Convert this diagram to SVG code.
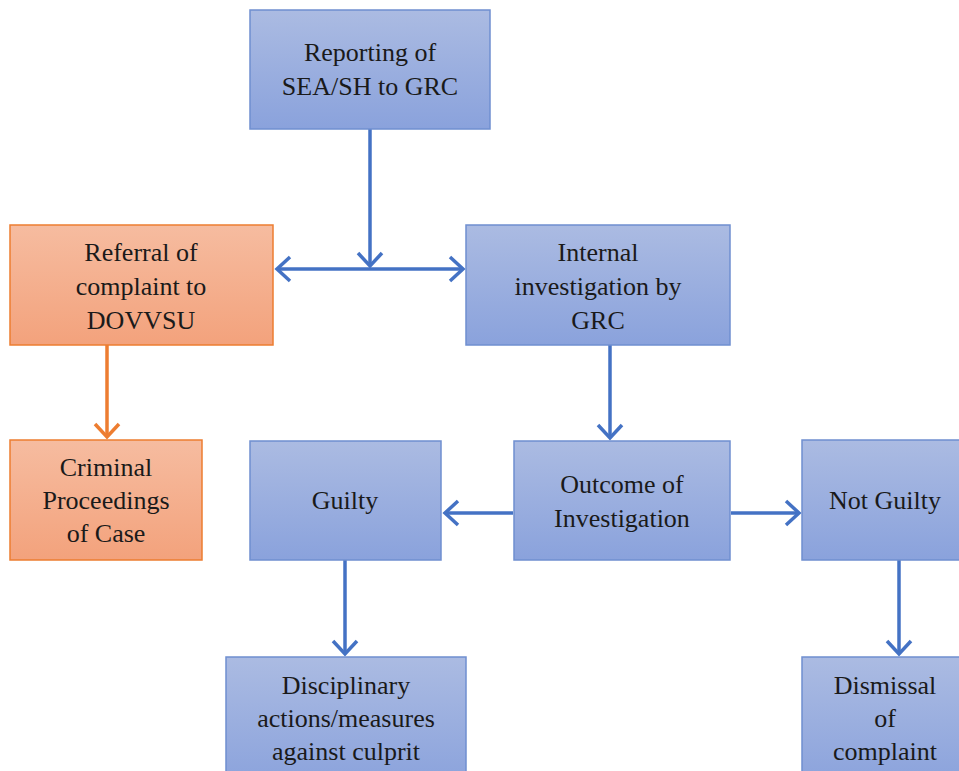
<svg xmlns="http://www.w3.org/2000/svg" width="959" height="771" viewBox="0 0 959 771">
<defs>
<linearGradient id="gb" x1="0" y1="0" x2="0" y2="1"><stop offset="0" stop-color="#abbbe2"/><stop offset="1" stop-color="#8aa2dc"/></linearGradient>
<linearGradient id="go" x1="0" y1="0" x2="0" y2="1"><stop offset="0" stop-color="#f6bca0"/><stop offset="1" stop-color="#f3a27c"/></linearGradient>
<marker id="ab" viewBox="0 0 12 12" refX="11" refY="6" markerWidth="12" markerHeight="12" markerUnits="userSpaceOnUse" orient="auto-start-reverse" overflow="visible"><path d="M-2,-6 L11,6 L-2,18" fill="none" stroke="#4472c4" stroke-width="3.5"/></marker>
<marker id="ao" viewBox="0 0 12 12" refX="11" refY="6" markerWidth="12" markerHeight="12" markerUnits="userSpaceOnUse" orient="auto" overflow="visible"><path d="M-2,-6 L11,6 L-2,18" fill="none" stroke="#ed7d31" stroke-width="3.5"/></marker>
</defs>
<style>
.b{fill:url(#gb);stroke:#6f8fd0;stroke-width:1.5}
.o{fill:url(#go);stroke:#ed7d31;stroke-width:1.5}
text{font-family:"Liberation Serif","Times New Roman",serif;font-size:26px;fill:#1a1a1a;text-anchor:middle}
.cb{stroke:#4472c4;stroke-width:3.5;fill:none}
.co{stroke:#ed7d31;stroke-width:3.5;fill:none}
</style>
<rect width="959" height="771" fill="#fff"/>
<g id="connectors">
<path class="cb" d="M370,129 V266" marker-end="url(#ab)"/>
<path class="cb" d="M277,269 H463" marker-start="url(#ab)" marker-end="url(#ab)"/>
<path class="co" d="M107,345 V437" marker-end="url(#ao)"/>
<path class="cb" d="M610,345 V438" marker-end="url(#ab)"/>
<path class="cb" d="M513,513 H445" marker-end="url(#ab)"/>
<path class="cb" d="M731,513 H799" marker-end="url(#ab)"/>
<path class="cb" d="M345,560 V654" marker-end="url(#ab)"/>
<path class="cb" d="M899,560 V654" marker-end="url(#ab)"/>
</g>
<g id="reporting"><rect class="b" x="250" y="10" width="240" height="119"/><text x="370" y="61">Reporting of</text><text x="370" y="95">SEA/SH to GRC</text></g>
<g id="referral"><rect class="o" x="10" y="225" width="263" height="120"/><text x="141" y="261">Referral of</text><text x="141" y="295">complaint to</text><text x="141" y="329">DOVVSU</text></g>
<g id="internal"><rect class="b" x="466" y="225" width="264" height="120"/><text x="598" y="261">Internal</text><text x="598" y="295">investigation by</text><text x="598" y="329">GRC</text></g>
<g id="criminal"><rect class="o" x="10" y="440" width="192" height="120"/><text x="106" y="476">Criminal</text><text x="106" y="509">Proceedings</text><text x="106" y="542">of Case</text></g>
<g id="guilty"><rect class="b" x="250" y="441" width="191" height="119"/><text x="345" y="509">Guilty</text></g>
<g id="outcome"><rect class="b" x="514" y="441" width="216" height="119"/><text x="622" y="493">Outcome of</text><text x="622" y="527">Investigation</text></g>
<g id="notguilty"><rect class="b" x="802" y="440" width="170" height="120"/><text x="885" y="509">Not Guilty</text></g>
<g id="disciplinary"><rect class="b" x="226" y="657" width="240" height="130"/><text x="346" y="694">Disciplinary</text><text x="346" y="727">actions/measures</text><text x="346" y="760">against culprit</text></g>
<g id="dismissal"><rect class="b" x="802" y="657" width="170" height="130"/><text x="885" y="694">Dismissal</text><text x="885" y="727">of</text><text x="885" y="760">complaint</text></g>
</svg>
